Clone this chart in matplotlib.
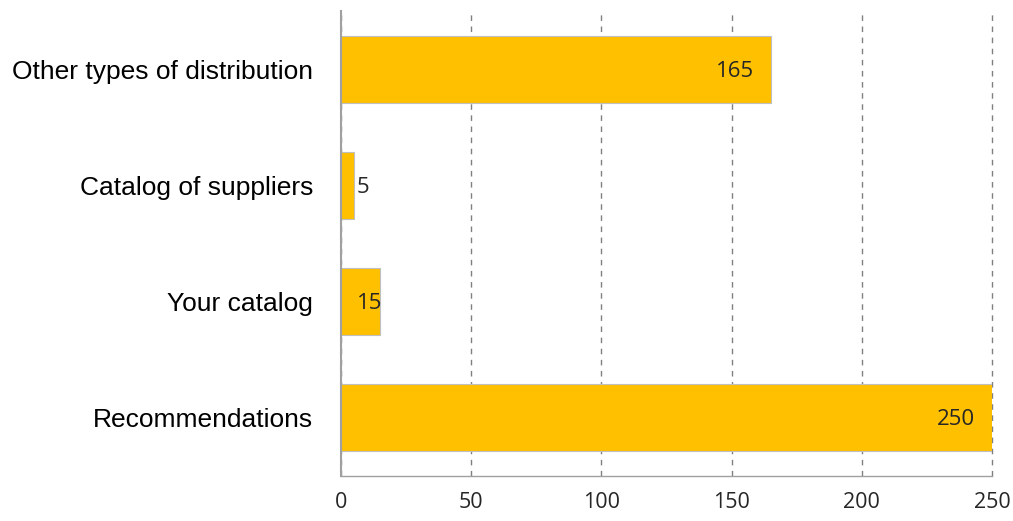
import matplotlib.pyplot as plt

categories = ["Recommendations", "Your catalog", "Catalog of suppliers", "Other types of distribution"]
values = [250, 15, 5, 165]
xticks = [0, 50, 100, 150, 200, 250]

fig = plt.figure(figsize=(10.13, 5.21), dpi=100)
ax = fig.add_axes([0.3366, 0.0873, 0.6427, 0.891])

pos = range(len(categories))
bars = ax.barh(pos, values, height=0.58, color="#FFC000", edgecolor="#BFBFBF", linewidth=0.8, zorder=3)

ax.set_xlim(0, 250)
ax.set_ylim(-0.5, 3.5)
ax.set_xticks(xticks)
ax.set_xticklabels([str(t) for t in xticks], family="Open Sans", fontsize=15.5, color="#262626")
ax.set_yticks(list(pos))
ax.set_yticklabels(categories, family="Liberation Sans", fontsize=19, color="black")
ax.tick_params(length=0)
ax.tick_params(axis="x", pad=12)
ax.tick_params(axis="y", pad=20)

ax.grid(axis="x", linestyle=(0, (4, 4)), color="#808080", linewidth=1, zorder=0)
for gl in ax.get_xgridlines():
    gl.set_clip_on(False)
for s in ["top", "right"]:
    ax.spines[s].set_visible(False)
ax.spines["left"].set_color("#A0A0A0")
ax.spines["left"].set_linewidth(1.5)
ax.spines["bottom"].set_color("#A0A0A0")
ax.spines["bottom"].set_linewidth(1)
ax.spines["left"].set_zorder(4)

# value labels: inside the bar end when there's room, otherwise just outside
for b, v in zip(bars, values):
    y = b.get_y() + b.get_height() / 2 - 0.02
    kw = dict(va="center", family="Open Sans", fontsize=16, color="#262626", zorder=5)
    if v >= 50:
        ax.text(v - 6.5, y, str(v), ha="right", **kw)
    elif v >= 10:
        ax.text(6, y, str(v), ha="left", **kw)
    else:
        ax.text(v + 1, y, str(v), ha="left", **kw)

fig.savefig("out.png", dpi=100)
